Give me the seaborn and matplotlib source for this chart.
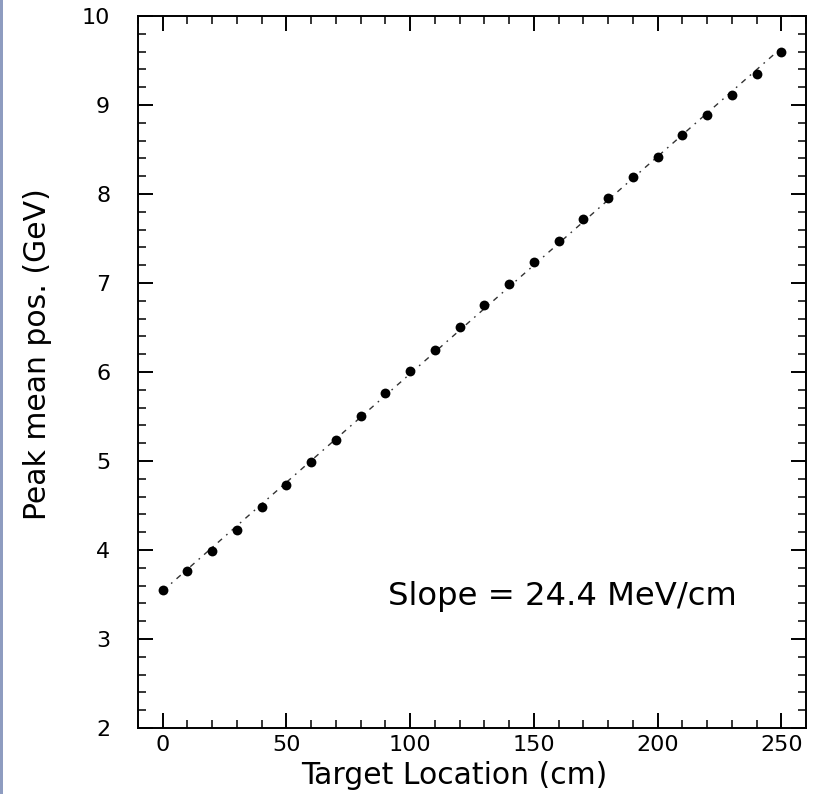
import numpy as np
import pandas as pd
import matplotlib
matplotlib.use("Agg")
import matplotlib.pyplot as plt
from matplotlib.patches import Rectangle
from matplotlib.ticker import MultipleLocator
import seaborn as sns

# Target position scan: peak mean position vs. target location
target_cm = [0, 10, 20, 30, 40, 50, 60, 70, 80, 90, 100, 110, 120,
             130, 140, 150, 160, 170, 180, 190, 200, 210, 220, 230, 240, 250]
peak_gev = [3.55, 3.76, 3.99, 4.23, 4.48, 4.73, 4.99, 5.24, 5.51, 5.76,
            6.01, 6.25, 6.51, 6.75, 6.99, 7.24, 7.47, 7.72, 7.96, 8.19,
            8.42, 8.66, 8.89, 9.11, 9.35, 9.59]
slope_mev_per_cm = 24.4

x_label = "Target Location (cm)"
y_label = "Peak mean pos. (GeV)"
slope_text = f"Slope = {slope_mev_per_cm} MeV/cm"

df = pd.DataFrame({"x": target_cm, "y": peak_gev})

# straight line with the quoted slope, through the centroid of the points
slope_gev = slope_mev_per_cm / 1000.0
intercept = df["y"].mean() - slope_gev * df["x"].mean()
fit = pd.DataFrame({"x": [target_cm[0], target_cm[-1]]})
fit["y"] = intercept + slope_gev * fit["x"]

sns.set_theme(style="ticks")
plt.rcParams["font.family"] = ["DejaVu Sans"]
plt.rcParams["text.color"] = "black"
plt.rcParams["axes.labelcolor"] = "black"
plt.rcParams["xtick.labelcolor"] = "black"
plt.rcParams["ytick.labelcolor"] = "black"

fig = plt.figure(figsize=(8.16, 7.94), dpi=100)
ax = fig.add_axes([138 / 816, 1 - 728 / 794, (806 - 138) / 816, (728 - 16) / 794])

sns.lineplot(data=fit, x="x", y="y", ax=ax, color="#333333", linewidth=1.0,
             dashes=False, linestyle=(0, (4, 4, 1.2, 4)))
sns.scatterplot(data=df, x="x", y="y", ax=ax, color="black", s=50,
                edgecolor="black", linewidth=0, zorder=3)

ax.set_xlim(-10, 260)
ax.set_ylim(2, 10)
ax.xaxis.set_major_locator(MultipleLocator(50))
ax.xaxis.set_minor_locator(MultipleLocator(10))
ax.yaxis.set_major_locator(MultipleLocator(1))
ax.yaxis.set_minor_locator(MultipleLocator(0.2))

ax.tick_params(which="both", direction="in", top=True, right=True,
               color="black", width=1.4)
ax.tick_params(which="major", length=10.5)
ax.tick_params(which="minor", length=5.5, width=1.1)
ax.tick_params(axis="y", which="major", pad=20, labelsize=16)
ax.tick_params(axis="x", which="major", pad=5, labelsize=16)

for sp in ax.spines.values():
    sp.set_linewidth(1.4)
    sp.set_color("black")

ax.set_xlabel(x_label, fontsize=21.5)
ax.set_ylabel(y_label, fontsize=21.5)
ax.xaxis.set_label_coords(0.473, -0.046)
ax.yaxis.set_label_coords(-0.128, 0.525)

ax.text(91, 3.38, slope_text, fontsize=23.2, ha="left", va="baseline")

# thin frame strip along the left edge of the page
fig.patches.append(Rectangle((0, 0), 3 / 816, 1, transform=fig.transFigure,
                             facecolor="#8e9cc0", edgecolor="none"))

fig.savefig("out.png", dpi=100)
